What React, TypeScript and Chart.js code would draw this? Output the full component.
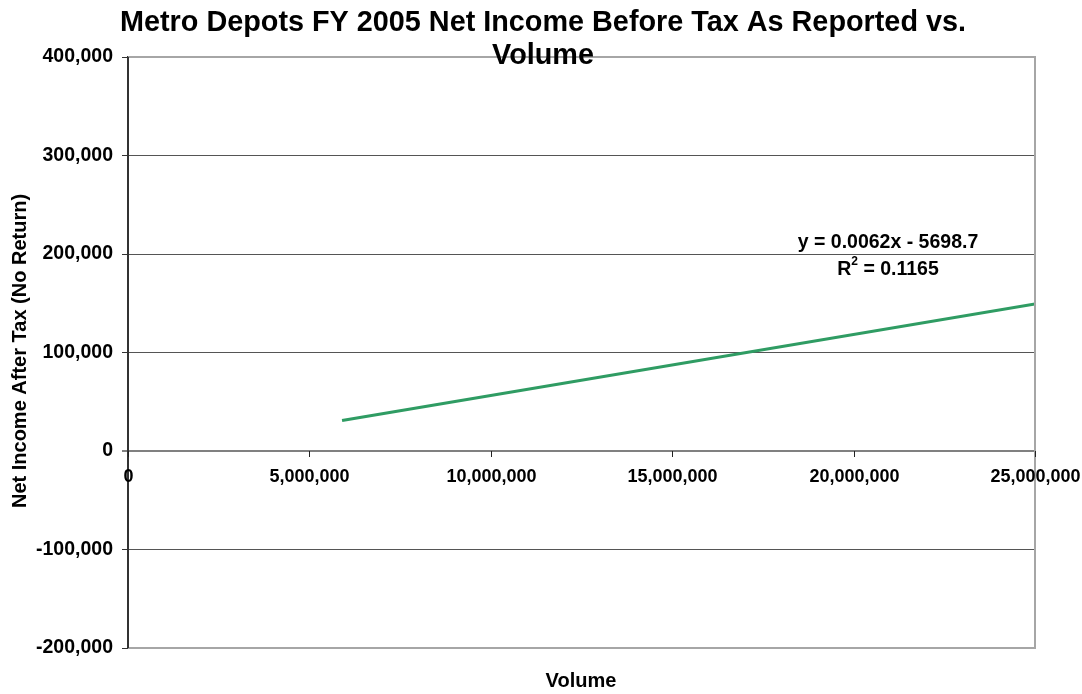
import React, { useEffect, useRef } from "react";
import { Chart, registerables } from "chart.js";

Chart.register(...registerables);

const TITLE_LINES = ["Metro Depots FY 2005 Net Income Before Tax As Reported vs.", "Volume"];
const X_TITLE = "Volume";
const Y_TITLE = "Net Income After Tax (No Return)";
const X_TICKS = [0, 5000000, 10000000, 15000000, 20000000, 25000000];
const Y_MIN = -200000;
const Y_MAX = 400000;
const Y_STEP = 100000;
// Trendline end points
const TREND_X = [5900000, 25000000];
const TREND_Y = [30900, 149300];
const EQUATION = "y = 0.0062x - 5698.7";
const R2_VALUE = " = 0.1165";

const FONT = "'Liberation Sans', Arial, sans-serif";
const fmt = (v: number) => v.toLocaleString("en-US");

export default function App() {
  const ref = useRef<HTMLCanvasElement | null>(null);

  useEffect(() => {
    document.body.style.margin = "0";
    const canvas = ref.current;
    if (!canvas) return;

    const decor = {
      id: "decor",
      beforeDatasetsDraw(chart: any) {
        const ctx = chart.ctx;
        const { left, right } = chart.chartArea;
        const y0 = chart.scales.y.getPixelForValue(0);
        ctx.save();
        ctx.strokeStyle = "#808080";
        ctx.lineWidth = 2;
        ctx.beginPath();
        ctx.moveTo(left - 6, y0);
        ctx.lineTo(right, y0);
        ctx.stroke();
        ctx.restore();
      },
      afterDraw(chart: any) {
        const ctx = chart.ctx;
        const { left, right, top, bottom } = chart.chartArea;
        const xs = chart.scales.x;
        const ys = chart.scales.y;
        const y0 = ys.getPixelForValue(0);
        ctx.save();
        // borders
        ctx.strokeStyle = "#a6a6a6";
        ctx.lineWidth = 2;
        ctx.beginPath();
        ctx.moveTo(left, top);
        ctx.lineTo(right, top);
        ctx.lineTo(right, bottom);
        ctx.lineTo(left, bottom);
        ctx.stroke();
        // left axis
        ctx.strokeStyle = "#333";
        ctx.lineWidth = 2;
        ctx.beginPath();
        ctx.moveTo(left, top);
        ctx.lineTo(left, bottom);
        ctx.stroke();
        // x ticks + labels at y = 0
        ctx.lineWidth = 1;
        ctx.strokeStyle = "#222";
        ctx.fillStyle = "#000";
        ctx.font = `bold 18px ${FONT}`;
        ctx.textAlign = "center";
        ctx.textBaseline = "middle";
        X_TICKS.forEach((v) => {
          const px = Math.round(xs.getPixelForValue(v)) + 0.5;
          ctx.beginPath();
          ctx.moveTo(px, y0);
          ctx.lineTo(px, y0 + 6);
          ctx.stroke();
          ctx.fillText(fmt(v), px, y0 + 26);
        });
        // title
        ctx.font = `bold 28.8px ${FONT}`;
        ctx.textBaseline = "alphabetic";
        ctx.fillText(TITLE_LINES[0], 543, 31);
        ctx.fillText(TITLE_LINES[1], 543, 64);
        // x title
        ctx.font = `bold 20px ${FONT}`;
        ctx.fillText(X_TITLE, 581, 687);
        // y title
        ctx.save();
        ctx.translate(26, 351);
        ctx.rotate(-Math.PI / 2);
        ctx.fillText(Y_TITLE, 0, 0);
        ctx.restore();
        // equation
        ctx.font = `bold 19.5px ${FONT}`;
        ctx.fillText(EQUATION, 888, 248);
        const wR = ctx.measureText("R").width;
        const wV = ctx.measureText(R2_VALUE).width;
        ctx.font = `bold 12px ${FONT}`;
        const w2 = ctx.measureText("2").width;
        const total = wR + w2 + wV;
        let x = 888 - total / 2;
        ctx.textAlign = "left";
        ctx.font = `bold 19.5px ${FONT}`;
        ctx.fillText("R", x, 275);
        x += wR;
        ctx.font = `bold 12px ${FONT}`;
        ctx.fillText("2", x, 265);
        x += w2;
        ctx.font = `bold 19.5px ${FONT}`;
        ctx.fillText(R2_VALUE, x, 275);
        ctx.restore();
      },
    };

    const chart = new Chart(canvas, {
      type: "scatter",
      data: {
        datasets: [
          {
            label: "Trendline",
            data: TREND_X.map((x, i) => ({ x, y: TREND_Y[i] })),
            showLine: true,
            borderColor: "#2f9c63",
            backgroundColor: "#2f9c63",
            borderWidth: 3,
            pointRadius: 0,
          },
        ],
      },
      options: {
        animation: false,
        responsive: false,
        layout: { padding: { top: 57, right: 47, bottom: 46, left: 0 } },
        plugins: { legend: { display: false }, tooltip: { enabled: false }, title: { display: false } },
        scales: {
          x: {
            type: "linear",
            display: false,
            min: X_TICKS[0],
            max: X_TICKS[X_TICKS.length - 1],
          },
          y: {
            type: "linear",
            min: Y_MIN,
            max: Y_MAX,
            afterFit: (s: any) => {
              s.width = 128;
            },
            ticks: {
              stepSize: Y_STEP,
              color: "#000",
              padding: 9,
              font: { family: FONT, weight: "bold", size: 19.5 },
              callback: (v: any) => fmt(Number(v)),
            },
            grid: {
              color: (c: any) => {
                const v = c.tick ? c.tick.value : 1;
                if (v === 0) return "rgba(0,0,0,0)";
                if (v === Y_MAX || v === Y_MIN) return "#a6a6a6";
                return "#555";
              },
              tickColor: "#333",
              tickLength: 6,
              lineWidth: 1,
            },
            border: { display: true, color: "#333", width: 2 },
          },
        },
      },
      plugins: [decor],
    });
    return () => chart.destroy();
  }, []);

  return (
    <canvas ref={ref} width={1082} height={694} style={{ display: "block", width: 1082, height: 694 }} />
  );
}
